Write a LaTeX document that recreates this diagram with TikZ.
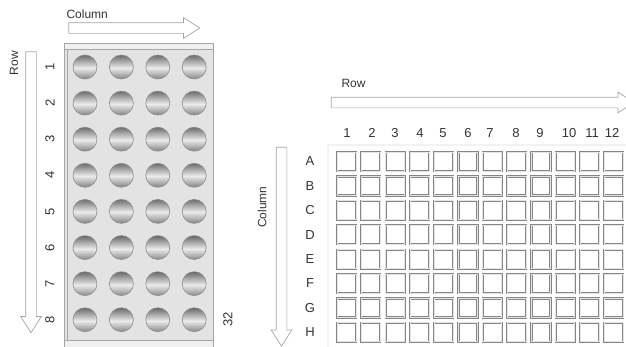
\documentclass[tikz,border=0pt]{standalone}
\usepackage{fontspec}
\setmainfont{Liberation Sans}
\usepackage{tikz}
\usetikzlibrary{shapes.arrows, positioning}

\begin{document}
\begin{tikzpicture}[
        x=1pt, y=-1pt,
        font=\fontsize{12}{14}\selectfont,
        every node/.style={align=center, text=black!80},
        blockarr/.style={
            single arrow, draw=gray!70, fill=white,
            line width=0.7pt, inner xsep=0pt, inner ysep=5pt,
            single arrow tip angle=65,
            single arrow head extend=5pt
        },
        well/.style={
            circle, draw=gray!90, line width=0.6pt,
            minimum size=24pt, inner sep=0pt,
            path picture={
                \foreach \k in {0,...,23} {
                    \pgfmathsetmacro\g{\k<13 ? 58-50*\k/13 : 8+36*(\k-13)/10}
                    \fill[black!\g]
                        ([yshift=-\k pt]path picture bounding box.north west)
                        rectangle ([yshift=-\k pt-1.1pt]path picture bounding box.north east);
                }
            }
        },
        cell/.style={
            rectangle, draw=gray!95, line width=0.7pt,
            double=gray!20, double distance=0.8pt,
            minimum size=19pt, inner sep=0pt
        },
        lab/.style={font=\fontsize{13}{15}\selectfont}
    ]
    \useasboundingbox (0,0) rectangle (626,346);

    % left plate, 32 wells
    \node[blockarr, minimum height=131pt] (colarrow) at (130,28) {};
    \node[anchor=west] (coltext) at (63,14) {Column};
    \node[blockarr, minimum height=281pt, rotate=-90] (rowarrow) at (31,188) {};
    \node[rotate=90] (rowtext) at (14,63) {Row};

    \draw[gray!70, fill=gray!22, line width=0.7pt] (64,49) rectangle (213,352);
    \draw[gray!70, line width=0.5pt] (67,49) -- (67,346);
    \draw[gray!70, fill=gray!12, line width=0.7pt] (64,43) rectangle (213,49);
    \draw[gray!70, fill=gray!12, line width=0.7pt] (64,340) rectangle (213,352);

    \foreach \r in {1,...,8} {
        \node[lab, rotate=90] (rl-\r) at (50,{67+36.1*(\r-1)}) {\r};
        \foreach \c in {1,...,4}
            \node[well] (w-\r-\c) at ({85+36.4*(\c-1)},{67+36.1*(\r-1)}) {};
    }
    \node[lab, rotate=90] (total) at (228,319) {32};

    % right plate, 96 wells
    \node[anchor=west] (rowtext2) at (338,83) {Row};
    \node[blockarr, minimum height=303pt] (rowarrow2) at (478.5,102.5) {};
    \node[rotate=90] (coltext2) at (262,207) {Column};
    \node[blockarr, minimum height=199pt, rotate=-90] (colarrow2) at (281.5,242.5) {};

    \draw[gray!70, double=gray!10, double distance=1.2pt, line width=0.6pt]
        (328,352) -- (328,145) -- (640,145);

    \foreach \n/\x in {1/347,2/372,3/395,4/420,5/443,6/468,7/490,8/516,9/540,10/569,11/592,12/612}
        \node[lab] (n-\n) at (\x,133) {\n};

    \foreach \l [count=\i] in {A,B,C,D,E,F,G,H} {
        \node[lab] (l-\l) at (310,{161.5+24.4*(\i-1)}) {\l};
        \foreach \c in {1,...,12}
            \node[cell] (c-\l-\c) at ({346.5+24.3*(\c-1)},{161.5+24.4*(\i-1)}) {};
    }

\end{tikzpicture}
\end{document}
